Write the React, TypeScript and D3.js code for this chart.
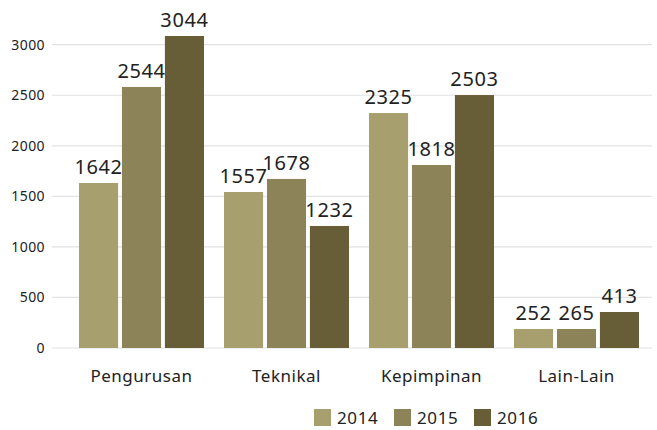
import React, { useRef, useEffect } from 'react'
import { select, scaleBand, scaleLinear } from 'd3'

const categories = ['Pengurusan', 'Teknikal', 'Kepimpinan', 'Lain-Lain']
const years = ['2014', '2015', '2016']
// bar heights as drawn in the picture
const values2014 = [1632, 1543, 2324, 188]
const values2015 = [2582, 1672, 1810, 188]
const values2016 = [3086, 1207, 2502, 356]
// value labels printed above the bars
const labels2014 = ['1642', '1557', '2325', '252']
const labels2015 = ['2544', '1678', '1818', '265']
const labels2016 = ['3044', '1232', '2503', '413']
const yTicks = [0, 500, 1000, 1500, 2000, 2500, 3000]
const colors = ['#a89f6f', '#8c8358', '#675d37']

const App = () => {
  const svgRef = useRef<SVGSVGElement>(null)
  const width = 657
  const height = 430
  const font = '"Noto Sans", sans-serif'

  useEffect(() => {
    const svg = select(svgRef.current)
    svg.selectAll('*').remove()

    const series = [values2014, values2015, values2016]
    const labels = [labels2014, labels2015, labels2016]

    const x0 = scaleBand().domain(categories).range([69, 649]).paddingInner(0.138).paddingOuter(0.069)
    const x1 = scaleBand().domain(years).range([0, x0.bandwidth()]).paddingInner(0.09)
    const y = scaleLinear().domain([0, 3000]).range([348, 44.7])

    // grid + y labels
    const grid = svg.append('g')
    grid.selectAll('line')
      .data(yTicks)
      .join('line')
      .attr('x1', 52)
      .attr('x2', 652)
      .attr('y1', d => y(d))
      .attr('y2', d => y(d))
      .attr('stroke', '#e2e2e2')
      .attr('stroke-width', 1.2)
    grid.selectAll('text')
      .data(yTicks)
      .join('text')
      .attr('x', 45)
      .attr('y', d => y(d))
      .attr('dy', '0.36em')
      .attr('text-anchor', 'end')
      .attr('font-family', font)
      .attr('font-size', 14)
      .attr('letter-spacing', 0.4)
      .attr('fill', '#222')
      .text(d => d)

    // bars
    const groups = svg.append('g')
      .selectAll('g')
      .data(categories)
      .join('g')
      .attr('transform', d => `translate(${x0(d)},0)`)

    years.forEach((yr, s) => {
      groups.append('rect')
        .attr('x', x1(yr)!)
        .attr('width', x1.bandwidth())
        .attr('y', (_, i) => y(series[s][i]))
        .attr('height', (_, i) => y(0) - y(series[s][i]))
        .attr('fill', colors[s])
      groups.append('text')
        .attr('x', x1(yr)! + x1.bandwidth() / 2)
        .attr('y', (_, i) => y(series[s][i]) - 9)
        .attr('text-anchor', 'middle')
        .attr('font-family', font)
        .attr('font-size', 20)
        .attr('letter-spacing', 0.6)
        .attr('fill', '#222')
        .text((_, i) => labels[s][i])
    })

    // category labels
    svg.append('g')
      .selectAll('text')
      .data(categories)
      .join('text')
      .attr('x', d => x0(d)! + x0.bandwidth() / 2)
      .attr('y', 382)
      .attr('text-anchor', 'middle')
      .attr('font-family', font)
      .attr('font-size', 17)
      .attr('letter-spacing', 0.5)
      .attr('fill', '#222')
      .text(d => d)

    // legend
    const legend = svg.append('g')
      .selectAll('g')
      .data(years)
      .join('g')
      .attr('transform', (_, i) => `translate(${314 + i * 80},409)`)
    legend.append('rect')
      .attr('width', 17)
      .attr('height', 17)
      .attr('fill', (_, i) => colors[i])
    legend.append('text')
      .attr('x', 23)
      .attr('y', 15)
      .attr('font-family', font)
      .attr('font-size', 17)
      .attr('letter-spacing', 0.6)
      .attr('fill', '#222')
      .text(d => d)
  }, [])

  return (
    <svg
      ref={svgRef}
      width={width}
      height={height}
      style={{ position: 'absolute', left: 0, top: 0, background: '#fff' }}
    />
  )
}

export default App
